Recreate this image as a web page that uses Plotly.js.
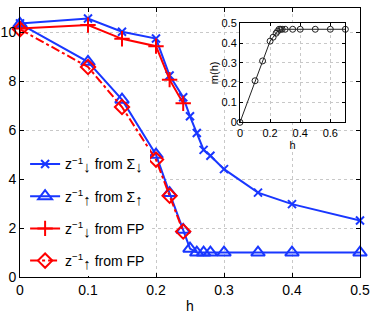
<!DOCTYPE html>
<html><head><meta charset="utf-8">
<script src="https://cdn.plot.ly/plotly-3.0.1.min.js"></script>
<style>html,body{margin:0;padding:0;background:#fff}#chart{width:374px;height:314px}</style>
</head><body><div id="chart"></div>
<script>
const hSigmaDown = [0,0.1,0.15,0.2,0.22,0.24,0.25,0.26,0.27,0.28,0.3,0.35,0.4,0.5];
const zSigmaDown = [10.37,10.57,10.03,9.75,8.24,7.35,6.57,5.89,5.2,4.96,4.41,3.45,2.98,2.31];
const hSigmaUp = [0,0.1,0.15,0.2,0.22,0.24,0.25,0.26,0.27,0.28,0.3,0.35,0.4,0.5];
const zSigmaUp = [10.35,8.8,7.25,5.0,3.43,1.93,1.16,1.0,1.0,1.0,1.0,1.0,1.0,1.0];
const hFPDown = [0,0.1,0.15,0.2,0.22,0.24];
const zFPDown = [10.16,10.3,9.74,9.44,8.07,7.1];
const hFPUp = [0,0.1,0.15,0.2,0.22,0.24];
const zFPUp = [10.13,8.59,6.95,4.8,3.32,1.86];
const hInset = [0,0.1,0.15,0.2,0.22,0.24,0.25,0.26,0.27,0.28,0.3,0.35,0.4,0.5,0.6,0.7];
const mInset = [0,0.21,0.31,0.41,0.43,0.45,0.46,0.47,0.47,0.47,0.47,0.47,0.47,0.47,0.47,0.47];
const arrowDown = '<span style="font-size:15px">↓</span>';
const arrowUp = '<span style="font-size:15px">↑</span>';
const names = [
  "z<sup>−1</sup><sub>" + arrowDown + "</sub> from Σ<sub>" + arrowDown + "</sub>",
  "z<sup>−1</sup><sub>" + arrowUp + "</sub> from Σ<sub>" + arrowUp + "</sub>",
  "z<sup>−1</sup><sub>" + arrowDown + "</sub> from FP",
  "z<sup>−1</sup><sub>" + arrowUp + "</sub> from FP"
];
const blue = 'rgb(25,55,255)', red = 'rgb(255,0,0)';
const traces = [
  {x:hSigmaDown,y:zSigmaDown,name:names[0],legendgroup:'a',mode:'lines+markers',line:{color:blue,width:2},
   marker:{symbol:'x-thin-open',size:8,line:{color:blue,width:2}},cliponaxis:false},
  {x:hSigmaUp,y:zSigmaUp,name:names[1],legendgroup:'b',mode:'lines+markers',line:{color:blue,width:2},
   marker:{symbol:'triangle-up-open',size:12,color:blue,line:{width:2}},cliponaxis:false},
  {x:hFPDown,y:zFPDown,name:names[2],legendgroup:'c',mode:'lines+markers',line:{color:red,width:2},
   marker:{symbol:'cross-thin-open',size:11,line:{color:red,width:2}},cliponaxis:false},
  {x:hFPUp,y:zFPUp,name:names[3],legendgroup:'d',mode:'lines+markers',line:{color:red,width:2,dash:'dashdot'},
   marker:{symbol:'diamond-open',size:11,color:red,line:{width:2}},cliponaxis:false},
  {x:hInset,y:mInset,xaxis:'x2',yaxis:'y2',mode:'lines+markers',showlegend:false,
   line:{color:'#222',width:1},marker:{symbol:'circle-open',size:6,color:'#222',line:{width:1}},cliponaxis:false}
];
const grid = {showgrid:true,gridcolor:'#c8c8c8',griddash:'dot',gridwidth:1};
const layout = {
  width:374,height:314,margin:{l:20,r:14,t:8,b:37},
  paper_bgcolor:'#fff',plot_bgcolor:'#fff',
  font:{family:'Liberation Sans, Arial, sans-serif',size:14,color:'#000'},
  xaxis:Object.assign({range:[0,0.5],tickvals:[0,0.1,0.2,0.3,0.4,0.5],ticktext:['0','0.1','0.2','0.3','0.4','0.5'],
    ticks:'inside',ticklen:4,tickcolor:'#000',showline:true,linecolor:'#000',linewidth:1,mirror:'ticks',zeroline:false,
    title:{text:'h',standoff:4,font:{size:14}}},grid),
  yaxis:Object.assign({range:[0,11],tickvals:[0,2,4,6,8,10],ticks:'inside',ticklen:4,tickcolor:'#000',
    showline:true,linecolor:'#000',linewidth:1,mirror:'ticks',zeroline:false},grid),
  xaxis2:Object.assign({domain:[0.647,0.957],anchor:'y2',range:[0,0.7],tickvals:[0,0.2,0.4,0.6],ticktext:['0','0.2','0.4','0.6'],
    ticks:'inside',ticklen:3,tickcolor:'#000',showline:true,linecolor:'#000',mirror:'ticks',zeroline:false,
    tickfont:{size:11},title:{text:'h',font:{size:11},standoff:0}},grid),
  yaxis2:Object.assign({domain:[0.575,0.943],anchor:'x2',range:[0,0.5],tickvals:[0,0.1,0.2,0.3,0.4,0.5],
    ticktext:['0','0.1','0.2','0.3','0.4','0.5'],ticks:'inside',ticklen:3,tickcolor:'#000',showline:true,linecolor:'#000',
    mirror:'ticks',zeroline:false,tickfont:{size:11},title:{text:'m(h)',font:{size:11},standoff:0}},grid),
  legend:{x:0.015,y:0.478,xanchor:'left',yanchor:'top',bgcolor:'rgba(255,255,255,1)',borderwidth:0,
    font:{size:14},itemwidth:30,tracegroupgap:11,traceorder:'grouped'},
  showlegend:true
};
Plotly.newPlot('chart',traces,layout,{displayModeBar:false,staticPlot:true});
</script></body></html>
